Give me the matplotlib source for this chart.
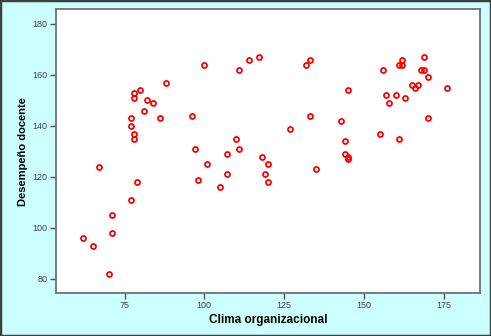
import matplotlib
matplotlib.use('Agg')
from matplotlib import pyplot as plt
from matplotlib.patches import Rectangle

plt.rcParams['font.family'] = ['Liberation Sans', 'DejaVu Sans']

# Clima organizacional vs Desempeño docente
clima = [62, 65, 67, 70, 71, 71, 77, 79, 77, 77, 78, 78, 78, 78, 80, 81, 82,
         84, 86, 88, 96, 97, 98, 100, 101, 105, 107, 107, 110, 111, 111, 114,
         117, 118, 119, 120, 120, 127, 132, 133, 133, 135, 143, 144, 144, 145,
         145, 145, 155, 156, 157, 158, 160, 161, 161, 162, 162, 163, 165, 166,
         167, 168, 169, 169, 170, 170, 176]
desempeno = [96, 93, 124, 82, 105, 98, 111, 118, 143, 140, 137, 135, 153, 151,
             154, 146, 150, 149, 143, 157, 144, 131, 119, 164, 125, 116, 129,
             121, 135, 131, 162, 166, 167, 128, 121, 125, 118, 139, 164, 166,
             144, 123, 142, 134, 129, 128, 127, 154, 137, 162, 152, 149, 152,
             164, 135, 166, 164, 151, 156, 155, 156, 162, 162, 167, 159, 143,
             155]

xticks = [75, 100, 125, 150, 175]
yticks = [80, 100, 120, 140, 160, 180]

fig = plt.figure(figsize=(4.91, 3.36), dpi=100)
fig.patch.set_facecolor('#ccffff')
ax = fig.add_axes([0.114, 0.128, 0.864, 0.844])
ax.set_facecolor('white')

ax.plot(clima, desempeno, linestyle='none', marker='o', markersize=3.6,
        markerfacecolor='none', markeredgecolor='#ff0000', markeredgewidth=1.3)

ax.set_xlim(53.5, 186.5)
ax.set_ylim(74.5, 185.7)
ax.set_xticks(xticks)
ax.set_yticks(yticks)

for s in ax.spines.values():
    s.set_color('#707070')
    s.set_linewidth(1.3)

ax.tick_params(axis='both', direction='out', length=4.5, width=1,
               color='#555555', labelcolor='#444444', labelsize=6.5, pad=1.5)

ax.set_xlabel('Clima organizacional', fontsize=8.5, fontweight='bold',
              labelpad=3)
ax.set_ylabel('Desempeño docente', fontsize=8, fontweight='bold', labelpad=3)

# dark frame round the whole picture
fig.patches.append(Rectangle((0, 0), 1, 1, transform=fig.transFigure,
                             fill=False, edgecolor='#404040', linewidth=2.5))

fig.savefig('out.png', dpi=100, facecolor=fig.get_facecolor())
